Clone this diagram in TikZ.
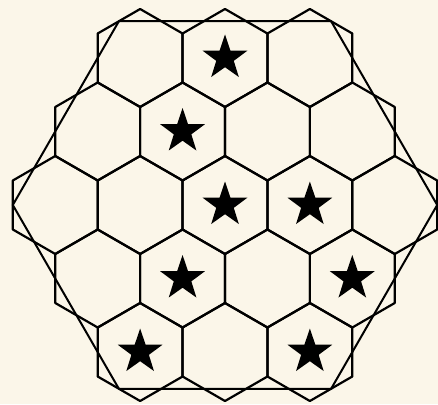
\documentclass[tikz,border=0pt]{standalone}
\usetikzlibrary{shapes.geometric}
\definecolor{paper}{RGB}{251,246,233}
\tikzset{
  cell/.style={draw=black, line width=2.2pt, line join=round},
  bighex/.style={draw=black, line width=2pt, line join=round},
  starmark/.style={star, star points=5, star point ratio=2.55, fill=black, draw=none, minimum size=47pt, inner sep=0pt}
}
\begin{document}
\begin{tikzpicture}[x=1pt,y=-1pt]
\fill[paper] (0,0) rectangle (438,404);
\useasboundingbox (0,0) rectangle (438,404);
\def\s{49}
\def\w{84.87}
\def\h{73.5}
% cells
\foreach \r in {-2,...,2}{
  \pgfmathtruncatemacro\n{4-abs(\r)}
  \foreach \k in {0,...,\n}{
    \pgfmathsetmacro\cx{225+(\k-\n/2)*\w}
    \pgfmathsetmacro\cy{205+\r*\h}
    \draw[cell] (\cx,\cy) ++(90:\s) -- ++(210:\s) -- ++(270:\s) -- ++(330:\s) -- ++(30:\s) -- ++(90:\s) -- cycle;
  }
}
% big hexagon
\draw[bighex] (437.2,205) -- (331.1,21.2) -- (118.9,21.2) -- (12.8,205) -- (118.9,388.8) -- (331.1,388.8) -- cycle;
% stars
\foreach \r/\k in {-2/1,-1/1,0/2,0/3,1/1,1/3,2/0,2/2}{
  \pgfmathtruncatemacro\n{4-abs(\r)}
  \pgfmathsetmacro\cx{225+(\k-\n/2)*\w}
  \pgfmathsetmacro\cy{205+\r*\h}
  \node[starmark] (star\r\k) at (\cx,\cy) {};
}
\end{tikzpicture}
\end{document}
